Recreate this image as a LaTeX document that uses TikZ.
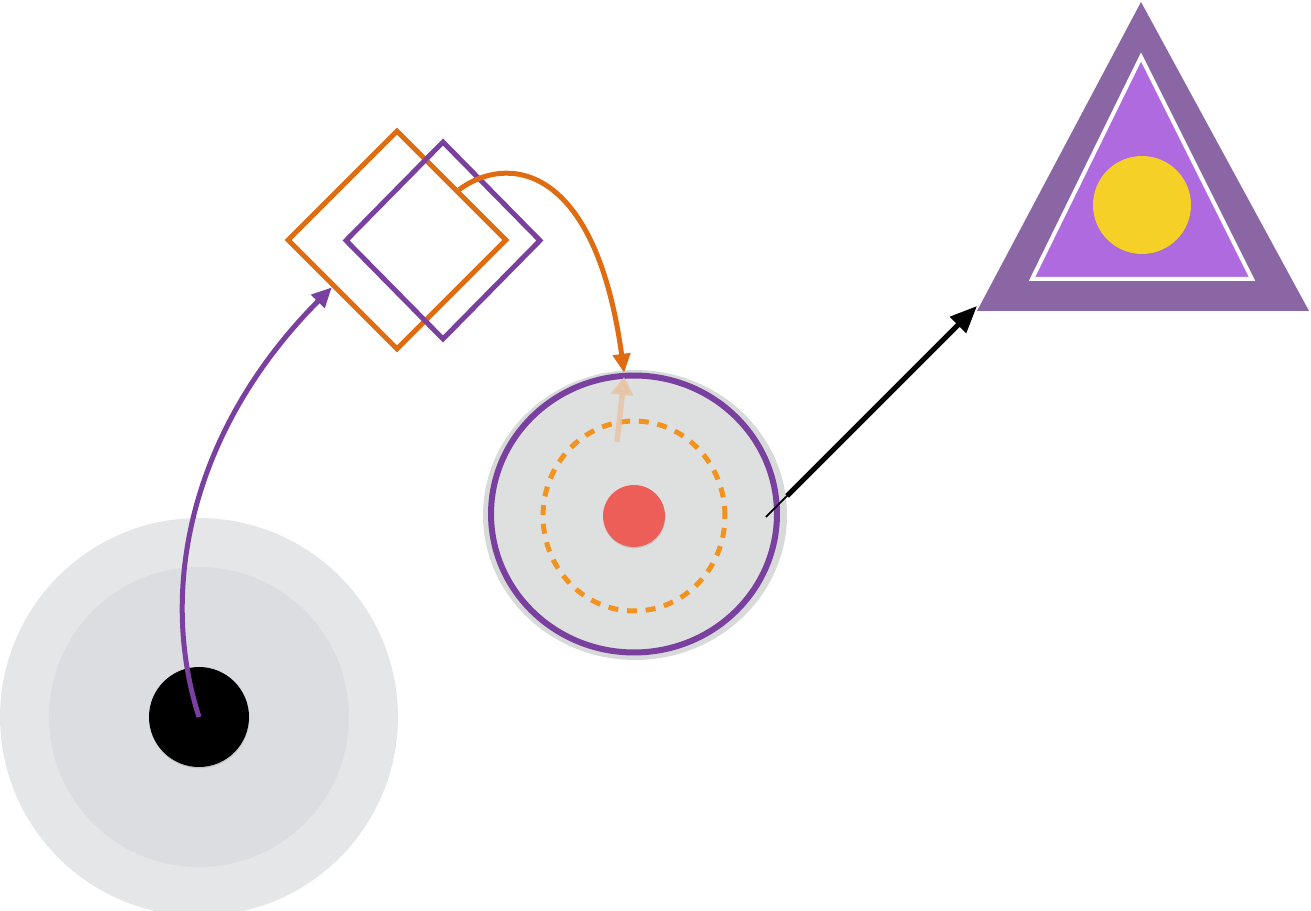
\documentclass[tikz,border=0pt]{standalone}
\usepackage{tikz}
\usetikzlibrary{arrows.meta, calc, shapes.geometric, shadows}

\definecolor{haloout}{HTML}{E5E6E8}
\definecolor{haloin}{HTML}{DCDDE0}
\definecolor{ringgray}{HTML}{DEE0DF}
\definecolor{ringshade}{HTML}{D8D9D9}
\definecolor{plum}{HTML}{7A409F}
\definecolor{rust}{HTML}{E06C12}
\definecolor{amber}{HTML}{F3931F}
\definecolor{coral}{HTML}{EC5E57}
\definecolor{peach}{HTML}{E8C2A4}
\definecolor{trioute}{HTML}{8A66A4}
\definecolor{triinner}{HTML}{B06AE0}
\definecolor{sun}{HTML}{F5D128}

\begin{document}
\begin{tikzpicture}[
            x=0.02cm, y=-0.02cm,
            dot/.style={circle, inner sep=0pt, draw=none},
            shaded/.style={drop shadow={opacity=0.25, shadow xshift=0.2pt, shadow yshift=-0.8pt}},
            box/.style={diamond, inner sep=0pt, line width=1mm, draw},
            plumlink/.style={-{Triangle[length=4mm, width=3.6mm]}, line width=1mm, plum},
            rustlink/.style={-{Triangle[length=3.8mm, width=3.4mm]}, line width=1mm, rust},
            ghostlink/.style={-{Triangle[length=3.6mm, width=4.4mm]}, line width=1.1mm, peach},
            blacklink/.style={-{Triangle[length=5.4mm, width=4.4mm]}, line width=1mm, black}
        ]
            \useasboundingbox (0,0) rectangle (1311,911);

            % --- Source ---
            \node[dot, fill=haloout, minimum size=7.96cm] (haloA) at (199,717) {};
            \node[dot, fill=haloin, minimum size=6cm] (haloB) at (199,717) {};
            \node[dot, fill=black, shaded, minimum size=2cm] (src) at (199,717) {};

            % --- Diamonds ---
            \node[box, draw=rust, minimum width=4.4cm, minimum height=4.4cm] (odia) at (397,240) {};
            \node[box, draw=plum, minimum width=3.92cm, minimum height=3.98cm] (pdia) at (443,240.5) {};

            % --- Ring ---
            \node[ellipse, inner sep=0pt, fill=ringshade, minimum width=6.08cm, minimum height=5.8cm] (shade) at (635,515) {};
            \node[ellipse, inner sep=0pt, fill=ringgray, draw=plum, line width=1.2mm, minimum width=5.72cm, minimum height=5.54cm] (ring) at (634,514) {};
            \node[ellipse, inner sep=0pt, draw=amber, line width=1mm, dash pattern=on 2mm off 1.75mm, minimum width=3.64cm, minimum height=3.8cm] (orbit) at (634,516) {};
            \node[dot, fill=coral, shaded, minimum size=1.24cm] (core) at (634,516) {};

            % --- Triangle ---
            \fill[trioute] (1141,2) -- (1309,311) -- (977,311) -- cycle;
            \filldraw[fill=triinner, draw=white, line width=0.8mm] (1141,57) -- (1252,279) -- (1032,279) -- cycle;
            \node[dot, fill=sun, shaded, minimum size=1.96cm] (sunny) at (1142,205) {};
            \coordinate (corner) at (977,306);

            % --- Links ---
            \draw[plumlink] (src.center) .. controls (158,590) and (190,430) .. (odia.216);
            \draw[rustlink] (odia.39) .. controls (505,155) and (595,160) .. (ring.94);
            \coordinate (ghost) at (617,442);
            \draw[ghostlink, opacity=0.8] (ghost) -- ($(ring.94)+(0,4)$);
            \coordinate (tail) at ($(ring.east)+(-14,3)$);
            \draw[black, line width=0.35mm] (tail) -- ($(tail)!0.12!(corner)$);
            \draw[blacklink] ($(tail)!0.1!(corner)$) -- (corner);

        \end{tikzpicture}
\end{document}
